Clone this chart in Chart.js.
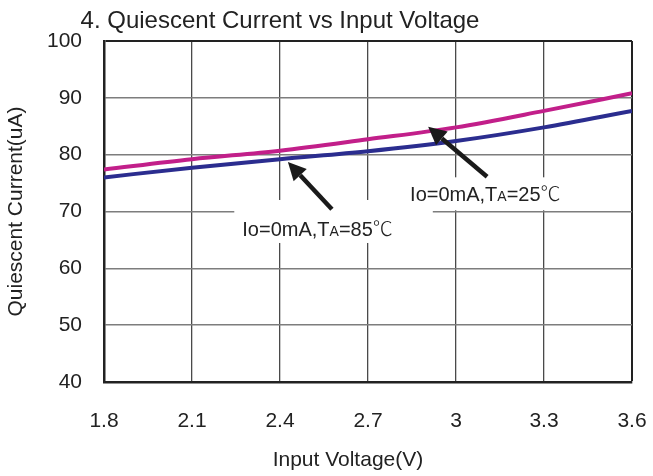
<!DOCTYPE html>
<html>
<head>
<meta charset="utf-8">
<script src="https://cdn.jsdelivr.net/npm/chart.js@4.4.1/dist/chart.umd.min.js"></script>
<style>
  body { margin: 0; background: #fff; }
  #wrap { width: 653px; height: 476px; }
</style>
</head>
<body>
<div id="wrap"><canvas id="qcChart" width="653" height="476"></canvas></div>
<script>
// values
const voltages = [1.8, 2.1, 2.4, 2.7, 3.0, 3.3, 3.6];
const current25 = [77.4, 79.2, 80.7, 82.7, 84.8, 87.7, 90.8];
const current85 = [76.0, 77.7, 79.2, 80.6, 82.4, 84.8, 87.7];
const xTicks = [1.8, 2.1, 2.4, 2.7, 3, 3.3, 3.6];
const yTicks = [40, 50, 60, 70, 80, 90, 100];

const FONT = '"Liberation Sans", Arial, sans-serif';
Chart.defaults.font.family = FONT;
Chart.defaults.color = '#222';

// callouts: text anchor, arrow tail and arrow tip in data units
const callouts = [
  { temp: '85', at: [2.528, 67.1], from: [2.577, 70.4], to: [2.427, 78.7],
    box: { l: -8, r: 40, t: -28, b: 15 } },
  { temp: '25', at: [3.10, 73.2], from: [3.106, 76.1], to: [2.905, 84.9],
    box: { l: -8, r: 12, t: -16, b: 17 } }
];

const annotate = {
  id: 'annotate',
  afterDatasetsDraw(chart) {
    const { ctx, scales: { x, y }, chartArea } = chart;
    ctx.save();
    callouts.forEach(c => {
      const cx = x.getPixelForValue(c.at[0]);
      const cy = y.getPixelForValue(c.at[1]);
      // pieces of "Io=0mA,TA=xx℃" with a small A and a thin degree sign
      const parts = [
        ['Io=0mA,T', '20px ' + FONT],
        ['A', '14px ' + FONT],
        ['=' + c.temp, '20px ' + FONT],
        ['\u2103', '300 20px "Noto Sans CJK SC", ' + FONT]
      ];
      let total = 0;
      parts.forEach(p => { ctx.font = p[1]; p.push(ctx.measureText(p[0]).width); total += p[2]; });
      const left = cx - total / 2;
      // white box hiding the grid
      ctx.fillStyle = '#fff';
      ctx.fillRect(left + c.box.l, cy + c.box.t, total - c.box.l + c.box.r, c.box.b - c.box.t);
      // text
      ctx.fillStyle = '#222';
      ctx.textBaseline = 'alphabetic';
      ctx.textAlign = 'left';
      const base = cy + 8;
      let px = left;
      parts.forEach(p => { ctx.font = p[1]; ctx.fillText(p[0], px, base); px += p[2]; });
      // arrow
      const x1 = x.getPixelForValue(c.from[0]), y1 = y.getPixelForValue(c.from[1]);
      const x2 = x.getPixelForValue(c.to[0]), y2 = y.getPixelForValue(c.to[1]);
      const ang = Math.atan2(y2 - y1, x2 - x1);
      const head = 18, half = 9;
      const bx = x2 - head * Math.cos(ang), by = y2 - head * Math.sin(ang);
      ctx.strokeStyle = '#1a1a1a';
      ctx.lineWidth = 4.5;
      ctx.beginPath();
      ctx.moveTo(x1, y1);
      ctx.lineTo(bx, by);
      ctx.stroke();
      ctx.fillStyle = '#1a1a1a';
      ctx.beginPath();
      ctx.moveTo(x2, y2);
      ctx.lineTo(bx + half * Math.sin(ang), by - half * Math.cos(ang));
      ctx.lineTo(bx - half * Math.sin(ang), by + half * Math.cos(ang));
      ctx.closePath();
      ctx.fill();
    });

    // chart title and x axis title
    ctx.fillStyle = '#222';
    ctx.textAlign = 'center';
    ctx.textBaseline = 'middle';
    ctx.font = '24px ' + FONT;
    ctx.fillText('4. Quiescent Current vs Input Voltage', 280, 21);
    ctx.font = '21px ' + FONT;
    ctx.fillText('Input Voltage(V)', chartArea.left + 0.462 * (chartArea.right - chartArea.left), 460);
    ctx.restore();
  }
};

const ctx = document.getElementById('qcChart').getContext('2d');
const qcChart = new Chart(ctx, {
  type: 'line',
  data: {
    datasets: [
      {
        label: 'Io=0mA, TA=85C',
        data: voltages.map((v, i) => ({ x: v, y: current85[i] })),
        borderColor: '#2b2d8f',
        borderWidth: 4,
        pointRadius: 0,
        cubicInterpolationMode: 'monotone'
      },
      {
        label: 'Io=0mA, TA=25C',
        data: voltages.map((v, i) => ({ x: v, y: current25[i] })),
        borderColor: '#c21f8a',
        borderWidth: 4,
        pointRadius: 0,
        cubicInterpolationMode: 'monotone'
      }
    ]
  },
  options: {
    responsive: false,
    animation: false,
    devicePixelRatio: 1,
    layout: { padding: { top: 41, right: 0, left: 0, bottom: 0 } },
    plugins: {
      legend: { display: false },
      tooltip: { enabled: false }
    },
    scales: {
      x: {
        type: 'linear',
        min: 1.8,
        max: 3.6,
        afterBuildTicks: s => { s.ticks = xTicks.map(v => ({ value: v })); },
        afterFit: s => { s.height = 94; s.paddingRight = 21; },
        grid: {
          drawTicks: false,
          color: c => (c.tick && c.tick.value === 3.6) ? '#222' : '#4a4a4a',
          lineWidth: c => (c.tick && c.tick.value === 3.6) ? 2 : 1.3
        },
        border: { display: true, color: '#222', width: 2.5 },
        ticks: { padding: 27, font: { size: 21 }, color: '#222', maxRotation: 0, callback: v => String(v) }
      },
      y: {
        min: 40,
        max: 100,
        afterBuildTicks: s => { s.ticks = yTicks.map(v => ({ value: v })); },
        afterFit: s => { s.width = 104; },
        grid: {
          drawTicks: false,
          color: c => (c.tick && c.tick.value === 100) ? '#222' : '#7d7d7d',
          lineWidth: c => (c.tick && c.tick.value === 100) ? 2 : 1.6
        },
        border: { display: true, color: '#222', width: 2.5 },
        ticks: { padding: 22, font: { size: 21 }, color: '#222' },
        title: {
          display: true,
          text: 'Quiescent Current(uA)',
          font: { size: 21 },
          color: '#222',
          padding: { top: 4, bottom: 0 }
        }
      }
    }
  },
  plugins: [annotate]
});
</script>
</body>
</html>
